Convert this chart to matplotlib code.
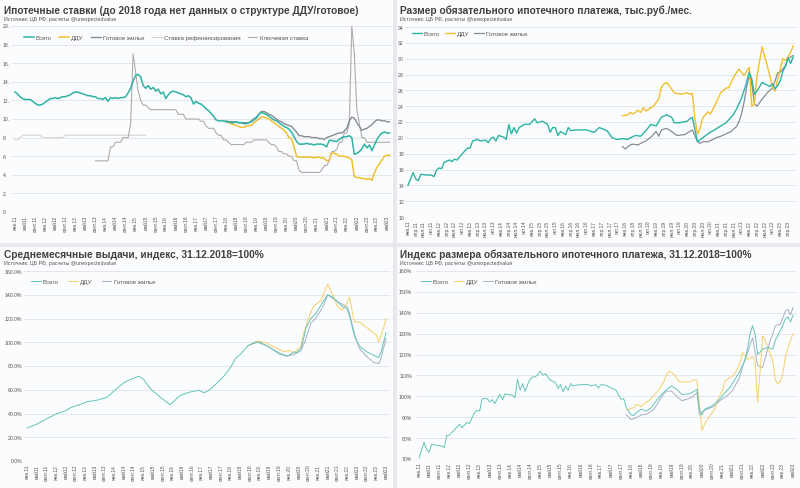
import matplotlib
matplotlib.use('Agg')
import matplotlib.pyplot as plt
from matplotlib.patches import Rectangle

plt.rcParams['font.family'] = ['Liberation Sans', 'DejaVu Sans']

W, H = 800, 489

# ---------- labels ----------
months_ru = ['янв.', 'февр.', 'мар.', 'апр.', 'май', 'июн.', 'июл.', 'авг.', 'сент.', 'окт.', 'нояб.', 'дек.']
series_names = ['Всего', 'ДДУ', 'Готовое жилье']
rate_names = ['Ставка рефинансирования', 'Ключевая ставка']
titles = ['Ипотечные ставки (до 2018 года нет данных о структуре ДДУ/готовое)',
          'Размер обязательного ипотечного платежа, тыс.руб./мес.',
          'Среднемесячные выдачи, индекс, 31.12.2018=100%',
          'Индекс размера обязательного ипотечного платежа, 31.12.2018=100%']
source = 'Источник: ЦБ РФ, расчеты @unexpectedvalue'

# ---------- panel 1: rates, % (monthly, month index from Jan 2011) ----------
p1_total_start = 0
p1_total_v = [12.9, 12.7, 12.4, 12.2, 12.1, 12.1, 12.1, 11.9, 11.7, 11.5, 11.5, 11.6, 11.8, 12.0, 12.2, 12.2,
              12.3, 12.2, 12.3, 12.4, 12.4, 12.5, 12.6, 12.8, 12.9, 12.9, 12.8, 12.7, 12.6, 12.5, 12.5, 12.4,
              12.4, 12.2, 12.2, 12.1, 12.3, 11.9, 12.3, 12.2, 12.3, 12.2, 12.3, 12.3, 12.4, 12.8, 13.3, 14.1,
              14.7, 14.8, 14.5, 13.6, 13.3, 13.6, 13.2, 13.4, 13.0, 13.2, 12.7, 12.9, 12.2, 12.6, 12.9, 13.0,
              12.9, 12.8, 12.7, 12.6, 12.4, 12.5, 12.3, 11.6, 11.9, 11.7, 11.6, 11.4, 11.1, 10.9, 10.6, 10.3,
              9.9, 9.8, 9.8, 9.8, 9.7, 9.7, 9.6, 9.6, 9.7, 9.6, 9.6, 9.5, 9.5, 9.6, 9.7, 9.9,
              10.1, 10.5, 10.7, 10.6, 10.5, 10.3, 10.1, 9.9, 9.8, 9.6, 9.4, 9.2, 9.1, 8.9, 8.6, 8.1,
              7.6, 7.3, 7.3, 7.3, 7.4, 7.3, 7.3, 7.2, 7.3, 7.3, 7.3, 7.2, 7.0, 7.7, 7.7, 7.6,
              7.6, 7.8, 8.0, 8.1, 8.1, 8.2, 8.0, 6.2, 6.3, 6.5, 6.8, 7.3, 6.9, 7.2, 6.6, 7.2,
              7.8, 8.2, 8.5, 8.6, 8.5, 8.5]
p1_ddu_start = 84
p1_ddu_v = [9.7, 9.6, 9.5, 9.4, 9.3, 9.2, 9.1, 9.1, 9.2, 9.3, 9.3, 9.6, 9.8, 10.0, 10.2, 10.2,
            10.1, 10.0, 9.8, 9.6, 9.4, 9.2, 9.0, 8.8, 8.5, 8.0, 7.9, 7.0, 6.0, 5.9, 5.9, 5.9,
            5.9, 5.9, 5.9, 5.8, 5.9, 5.9, 5.8, 5.8, 5.5, 5.6, 6.4, 6.3, 6.2, 6.0, 6.0, 6.0,
            5.9, 5.8, 5.6, 3.8, 3.7, 3.7, 3.6, 3.6, 3.5, 3.6, 3.4, 4.2, 4.8, 5.2, 5.6, 6.0,
            6.1, 6.1]
p1_ready_start = 84
p1_ready_v = [9.8, 9.7, 9.7, 9.7, 9.7, 9.6, 9.6, 9.6, 9.6, 9.6, 9.8, 10.0, 10.2, 10.5, 10.8, 10.8,
              10.7, 10.5, 10.4, 10.2, 10.0, 9.8, 9.7, 9.5, 9.4, 9.3, 9.2, 8.9, 8.6, 8.2, 8.2, 8.1,
              8.1, 8.1, 8.0, 8.0, 8.0, 7.9, 7.9, 7.8, 8.0, 8.1, 8.2, 8.3, 8.4, 8.5, 8.5, 8.7,
              9.0, 9.8, 10.2, 10.1, 9.6, 9.2, 8.8, 8.9, 9.0, 9.2, 9.4, 9.7, 9.9, 9.9, 9.8, 9.8,
              9.7, 9.7]
p1_refi_start = 0
p1_refi_v = [7.75, 7.75, 8.0, 8.25, 8.25, 8.25, 8.25, 8.25, 8.25, 8.25, 8.25, 8.0, 8.0, 8.0, 8.0, 8.0,
             8.0, 8.0, 8.0, 8.0, 8.25, 8.25, 8.25, 8.25, 8.25, 8.25, 8.25, 8.25, 8.25, 8.25, 8.25, 8.25,
             8.25, 8.25, 8.25, 8.25, 8.25, 8.25, 8.25, 8.25, 8.25, 8.25, 8.25, 8.25, 8.25, 8.25, 8.25, 8.25,
             8.25, 8.25, 8.25, 8.25, 8.25]
p1_key_start = 32
p1_key_v = [5.5, 5.5, 5.5, 5.5, 5.5, 5.5, 7.0, 7.0, 7.5, 7.5, 7.5, 8.0, 8.0, 8.0, 9.5, 17.0,
            15.0, 13.0, 12.0, 11.5, 11.5, 11.2, 11.0, 11.0, 11.0, 11.0, 11.0, 11.0, 11.0, 11.0, 11.0, 11.0,
            11.0, 10.5, 10.5, 10.5, 10.0, 10.0, 10.0, 10.0, 10.0, 10.0, 9.75, 9.75, 9.25, 9.0, 9.0, 9.0,
            8.5, 8.25, 8.25, 7.75, 7.75, 7.5, 7.25, 7.25, 7.25, 7.25, 7.25, 7.25, 7.5, 7.5, 7.5, 7.75,
            7.75, 7.75, 7.75, 7.75, 7.75, 7.5, 7.25, 7.25, 7.0, 6.5, 6.5, 6.25, 6.25, 6.0, 6.0, 5.5,
            5.5, 4.5, 4.25, 4.25, 4.25, 4.25, 4.25, 4.25, 4.25, 4.25, 4.5, 5.0, 5.0, 5.5, 6.5, 6.5,
            6.75, 7.5, 7.5, 8.5, 8.5, 9.5, 20.0, 17.0, 11.0, 9.5, 8.0, 8.0, 7.5, 7.5, 7.5, 7.5,
            7.5, 7.5, 7.5, 7.5, 7.5, 7.5]

# ---------- panel 2: payment, thousand rub / month  (month index, value) ----------
p2_total = [(0, 14.0), (2, 15.6), (3, 14.8), (4, 14.6), (5, 15.4), (7, 15.3), (9, 15.3), (10, 15.1),
            (11, 15.9), (12, 16.2), (13, 16.1), (14, 16.9), (16, 17.2), (17, 17.0), (18, 17.3), (19, 17.2),
            (21, 18.0), (23, 18.7), (24, 18.7), (25, 19.6), (27, 19.8), (28, 19.6), (30, 19.7), (31, 19.4),
            (32, 19.9), (33, 20.1), (34, 19.6), (35, 20.3), (36, 20.2), (37, 20.1), (38, 19.8), (39, 21.7),
            (40, 20.5), (41, 21.3), (42, 20.6), (43, 21.3), (45, 21.7), (47, 21.7), (49, 22.4), (50, 21.9),
            (52, 22.1), (54, 21.7), (55, 20.7), (56, 21.3), (57, 21.3), (58, 20.3), (59, 20.8), (61, 20.4),
            (62, 21.3), (63, 20.9), (65, 21.0), (69, 21.0), (72, 20.7), (74, 21.3), (77, 20.9), (79, 20.0),
            (81, 19.8), (83, 19.9), (85, 19.8), (86, 20.0), (88, 20.3), (90, 20.2), (92, 20.9), (94, 21.7),
            (96, 21.5), (98, 22.6), (100, 22.9), (102, 22.6), (103, 21.9), (105, 21.9), (108, 22.1),
            (109, 22.4), (110, 22.6), (112, 19.5), (114, 20.0), (116, 20.5), (118, 20.9), (121, 21.5),
            (123, 21.9), (125, 22.6), (126, 23.0), (127, 23.6), (128, 24.3), (129, 25.0), (130, 26.0),
            (131, 27.0), (132, 28.3), (133, 27.4), (134, 25.5), (135, 25.9), (137, 27.0), (138, 26.8),
            (140, 26.5), (141, 26.8), (142, 26.2), (143, 26.6), (144, 27.2), (145, 28.4), (146, 29.0),
            (147, 30.1), (148, 29.4), (149, 30.2)]
p2_ddu = [(83, 22.8), (85, 22.9), (86, 23.2), (87, 23.0), (89, 23.5), (90, 23.2), (91, 23.8), (92, 23.4),
          (95, 24.0), (97, 24.9), (98, 26.4), (99, 26.8), (100, 27.0), (101, 26.6), (103, 25.7), (104, 25.6),
          (106, 25.5), (108, 25.7), (109, 25.5), (110, 25.6), (111, 22.3), (112, 20.5), (113, 21.2),
          (114, 22.5), (116, 23.3), (117, 23.0), (119, 24.3), (121, 25.7), (123, 26.3), (124, 26.3),
          (126, 27.7), (128, 28.7), (130, 27.9), (132, 28.9), (133, 24.0), (134, 24.3), (135, 27.8),
          (137, 31.5), (138, 30.2), (139, 29.1), (141, 26.4), (142, 25.9), (143, 27.4), (145, 30.0),
          (146, 29.8), (147, 30.2), (148, 30.8), (149, 31.6)]
p2_ready = [(83, 18.9), (84, 18.6), (86, 19.1), (87, 19.2), (89, 19.1), (90, 19.3), (92, 19.6), (94, 20.1),
            (96, 20.8), (97, 20.2), (98, 21.0), (100, 21.2), (102, 20.8), (104, 20.3), (107, 20.4),
            (108, 20.6), (109, 20.8), (110, 21.0), (112, 19.5), (113, 19.3), (114, 19.5), (116, 19.5),
            (118, 19.8), (119, 20.0), (121, 20.2), (123, 20.5), (125, 20.8), (127, 21.4), (128, 22.0),
            (129, 23.0), (130, 24.5), (131, 26.4), (132, 28.0), (133, 26.8), (134, 24.3), (135, 24.0),
            (137, 24.9), (139, 25.7), (141, 26.3), (142, 27.2), (143, 28.2), (144, 28.3), (146, 29.1),
            (147, 30.0), (148, 30.2), (149, 30.4)]

# ---------- panel 3: monthly issuance index, % ----------
p3_total = [(0, 27.8), (4, 31.0), (8, 35.4), (12, 39.6), (16, 42.4), (18, 44.9), (22, 47.7), (25, 50.0),
            (29, 51.3), (33, 53.6), (36, 59.2), (40, 66.0), (43, 69.0), (46, 71.3), (48, 69.0), (51, 60.6),
            (55, 53.6), (59, 47.4), (63, 55.0), (67, 58.0), (71, 59.6), (73, 57.5), (75, 59.5), (78, 65.0),
            (81, 71.0), (84, 79.0), (86, 86.5), (88, 90.0), (91, 97.0), (94, 100.0), (96, 100.0), (99, 97.0),
            (102, 93.0), (104, 90.0), (107, 88.4), (108, 88.8), (110, 92.0), (111, 91.0), (113, 95.0),
            (114, 103.0), (115, 112.0), (117, 120.0), (119, 124.0), (122, 134.0), (124, 140.0), (126, 138.0),
            (128, 134.0), (130, 130.0), (132, 128.0), (133, 122.0), (135, 105.0), (137, 97.0), (140, 92.0),
            (143, 89.0), (145, 87.0), (146, 92.0), (148, 108.0)]
p3_ddu = [(91, 97.0), (95, 101.0), (98, 100.0), (102, 96.0), (106, 92.0), (108, 93.0), (110, 91.0),
          (113, 97.0), (114, 107.0), (116, 120.0), (118, 130.0), (121, 135.0), (123, 144.0), (124, 149.0),
          (126, 140.0), (128, 130.0), (130, 127.0), (132, 133.0), (133, 138.0), (134, 127.0), (135, 117.0),
          (137, 117.0), (139, 114.0), (141, 111.0), (144, 106.0), (145, 100.0), (147, 112.0), (148, 120.0)]
p3_ready = [(91, 97.0), (95, 100.0), (99, 97.0), (103, 92.0), (107, 88.5), (110, 89.5), (113, 93.0),
            (115, 103.0), (117, 116.0), (119, 120.0), (122, 130.0), (124, 140.0), (126, 137.0), (129, 133.0),
            (132, 130.0), (133, 124.0), (135, 107.0), (137, 95.0), (140, 88.0), (143, 83.0), (145, 82.0),
            (146, 87.0), (148, 103.0)]

# ---------- panel 4: payment index, % ----------
p4_total = [(0, 70.5), (2, 78.0), (3, 74.5), (4, 73.2), (5, 77.0), (7, 76.5), (9, 76.2), (10, 75.5),
            (11, 81.4), (12, 81.4), (14, 84.0), (16, 86.6), (17, 85.0), (19, 87.5), (20, 87.0), (21, 89.8),
            (22, 92.2), (23, 93.3), (24, 93.0), (25, 98.9), (27, 98.9), (28, 97.3), (29, 98.4), (30, 96.5),
            (31, 98.9), (32, 100.9), (33, 98.4), (34, 101.2), (35, 100.9), (37, 100.6), (38, 99.3),
            (39, 108.2), (40, 102.9), (41, 106.1), (42, 102.4), (43, 105.6), (44, 108.2), (45, 109.3),
            (46, 109.3), (47, 110.4), (48, 112.0), (49, 110.1), (50, 110.9), (52, 107.7), (54, 106.6),
            (55, 103.7), (56, 105.6), (57, 102.1), (58, 104.9), (59, 102.9), (60, 106.1), (61, 105.0),
            (62, 105.3), (64, 105.6), (67, 105.6), (68, 105.0), (70, 105.6), (71, 104.0), (72, 105.6),
            (74, 105.3), (76, 104.0), (78, 102.9), (79, 100.5), (80, 98.6), (81, 98.9), (82, 94.6),
            (84, 91.1), (85, 90.8), (86, 92.2), (88, 93.8), (90, 93.0), (92, 94.6), (94, 98.1), (96, 100.9),
            (98, 103.3), (100, 104.9), (102, 103.3), (104, 100.9), (107, 101.2), (109, 102.5), (110, 103.3),
            (111, 93.0), (112, 91.1), (113, 93.8), (116, 95.4), (119, 98.6), (120, 100.2), (121, 101.7),
            (123, 104.1), (125, 108.1), (127, 112.0), (129, 117.5), (130, 122.6), (131, 129.8), (132, 133.8),
            (133, 129.8), (134, 120.0), (136, 122.6), (138, 123.4), (140, 122.6), (141, 126.8), (143, 131.6),
            (144, 134.0), (145, 137.2), (146, 138.0), (147, 135.6), (148, 138.8)]
p4_ddu = [(82, 93.3), (85, 94.6), (86, 96.2), (88, 95.0), (89, 96.5), (91, 97.9), (93, 100.5), (95, 103.3),
          (97, 107.3), (98, 110.4), (99, 112.0), (101, 110.4), (103, 106.9), (105, 106.9), (107, 106.9),
          (109, 108.0), (110, 107.7), (111, 95.4), (112, 83.5), (113, 86.7), (115, 90.6), (117, 93.8),
          (118, 97.9), (120, 102.5), (121, 107.3), (123, 108.9), (124, 109.6), (126, 112.8), (127, 116.0),
          (128, 121.0), (130, 117.7), (132, 119.0), (133, 117.0), (134, 97.1), (135, 112.0), (136, 129.0),
          (138, 124.0), (139, 120.0), (140, 117.0), (141, 107.7), (142, 106.1), (143, 107.0), (144, 111.0),
          (145, 119.0), (146, 123.4), (147, 126.8), (148, 129.8)]
p4_ready = [(82, 91.1), (84, 88.8), (86, 89.8), (88, 91.1), (90, 91.4), (93, 93.8), (95, 97.9), (97, 101.4),
            (98, 102.5), (100, 102.5), (102, 100.0), (104, 97.9), (106, 98.6), (108, 99.6), (110, 101.7),
            (111, 91.1), (112, 92.7), (114, 93.8), (117, 95.4), (119, 97.9), (122, 100.3), (124, 102.7),
            (126, 107.0), (127, 109.5), (128, 114.0), (130, 121.0), (132, 128.0), (133, 121.0), (134, 115.0),
            (135, 114.0), (136, 113.9), (138, 122.6), (139, 126.8), (140, 130.0), (141, 133.8), (143, 134.5),
            (144, 137.6), (145, 140.8), (146, 141.6), (147, 139.0), (148, 142.5)]

# ---------- colours ----------
teal, yellow, grey = '#2bb3a4', '#f2bf2f', '#878b94'
teal_l, yellow_l, grey_l = '#62c6b9', '#f5d067', '#a9aec6'
refi_c, key_c = '#d4d4d4', '#acacac'
panel_bg, fig_bg = '#fbfcfd', '#e6e8ec'
txt_c = '#404040'

fig = plt.figure(figsize=(W / 100, H / 100), dpi=100)
fig.patch.set_facecolor(fig_bg)


def fx(x):
    return x / W


def fy(y):
    return 1 - y / H


def monthly(start, vals):
    return list(range(start, start + len(vals))), vals


def pairs(data):
    return [p[0] for p in data], [p[1] for p in data]


def panel(x0, y0, x1, y1):
    fig.add_artist(Rectangle((fx(x0), fy(y1)), fx(x1 - x0), (y1 - y0) / H,
                             transform=fig.transFigure, facecolor=panel_bg, edgecolor='none', zorder=0))


def month_labels(step, last):
    out = []
    for m in range(0, last + 1, step):
        out.append(months_ru[m % 12] + str(11 + m // 12))
    return out


def make_axes(left, right, top, bottom, p0, pend, mend, ylim, yticks, ylabels,
              ylab_px, ylab_ha, xstep):
    ax = fig.add_axes([fx(left), fy(bottom), fx(right - left), (bottom - top) / H])
    ax.set_facecolor('none')
    ppm = (pend - p0) / mend
    ax.set_xlim((left - p0) / ppm, (right - p0) / ppm)
    ax.set_ylim(*ylim)
    for s in ax.spines.values():
        s.set_visible(False)
    ax.set_yticks(yticks)
    ax.yaxis.set_major_formatter(plt.NullFormatter())
    ax.tick_params(length=0)
    ax.grid(axis='y', color='#dfe2e7', lw=0.6)
    ax.set_axisbelow(True)
    for t, lab in zip(yticks, ylabels):
        ax.text((ylab_px - left) / (right - left), t, lab, transform=ax.get_yaxis_transform(),
                ha=ylab_ha, va='center', fontsize=3.7, color='#555555')
    ax.set_xticks(list(range(0, mend + 1, xstep)))
    ax.set_xticklabels(month_labels(xstep, mend), rotation=90, fontsize=3.5, color='#555555')
    ax.tick_params(axis='x', pad=2)
    return ax


def titles_at(x, y, sub_y, title, size):
    fig.text(fx(x), fy(y), title, fontsize=size, fontweight='bold', color=txt_c, va='baseline')
    fig.text(fx(x), fy(sub_y), source, fontsize=3.8, color='#555555', va='baseline')


def legend(handles, labels, x, y, spacing):
    fig.legend(handles, labels, loc='center left', bbox_to_anchor=(fx(x), fy(y)),
               bbox_transform=fig.transFigure, ncol=len(labels), frameon=False, fontsize=4.4,
               handlelength=1.6, handletextpad=0.35, columnspacing=spacing, borderpad=0,
               borderaxespad=0, labelcolor='#555555')


# panel backgrounds
panel(0, 0, 393, 244)
panel(397, 0, 800, 244)
panel(0, 248, 393, 489)
panel(397, 248, 800, 489)

# ---- panel 1 ----
ax1 = make_axes(11, 392, 27, 213, 15, 387, 148, (0, 20), list(range(0, 21, 2)),
                [f'{v}.' for v in range(0, 21, 2)], 3, 'left', 4)
l_refi, = ax1.plot(*monthly(p1_refi_start, p1_refi_v), color=refi_c, lw=0.8)
l_key, = ax1.plot(*monthly(p1_key_start, p1_key_v), color=key_c, lw=0.8)
l_rdy, = ax1.plot(*monthly(p1_ready_start, p1_ready_v), color=grey, lw=1.0)
l_ddu, = ax1.plot(*monthly(p1_ddu_start, p1_ddu_v), color=yellow, lw=1.1)
l_tot, = ax1.plot(*monthly(p1_total_start, p1_total_v), color=teal, lw=1.1)
titles_at(4, 13.5, 20.5, titles[0], 7.3)
legend([l_tot, l_ddu, l_rdy, l_refi, l_key], series_names + rate_names, 24, 38.5, 1.2)

# ---- panel 2 ----
ax2 = make_axes(405, 796, 28, 218, 408, 788, 147, (10, 34), list(range(10, 35, 2)),
                [str(v) for v in range(10, 35, 2)], 404, 'right', 3)
r, = ax2.plot(*pairs(p2_ready), color=grey, lw=0.9)
d, = ax2.plot(*pairs(p2_ddu), color=yellow, lw=1.0)
t, = ax2.plot(*pairs(p2_total), color=teal, lw=1.0)
titles_at(400, 13.5, 20.5, titles[1], 7.3)
legend([t, d, r], series_names, 412, 34.5, 0.8)

# ---- panel 3 ----
ax3 = make_axes(24, 390, 272, 462, 27, 386, 148, (0, 160), list(range(0, 161, 20)),
                [f'{v}.0%' for v in range(0, 161, 20)], 22, 'right', 4)
r, = ax3.plot(*pairs(p3_ready), color=grey_l, lw=0.7)
d, = ax3.plot(*pairs(p3_ddu), color=yellow_l, lw=0.7)
t, = ax3.plot(*pairs(p3_total), color=teal_l, lw=0.7)
titles_at(4, 258.5, 265.5, titles[2], 7.3)
legend([t, d, r], series_names, 31, 282.5, 1.5)

# ---- panel 4 ----
ax4 = make_axes(416, 797, 272, 460, 419, 793, 148, (70, 160), list(range(70, 161, 10)),
                [f'{v}%' for v in range(70, 161, 10)], 412, 'right', 4)
r, = ax4.plot(*pairs(p4_ready), color=grey_l, lw=0.7)
d, = ax4.plot(*pairs(p4_ddu), color=yellow_l, lw=0.7)
t, = ax4.plot(*pairs(p4_total), color=teal_l, lw=0.7)
titles_at(400, 258, 265, titles[3], 7.3)
legend([t, d, r], series_names, 421, 282, 0.8)

fig.savefig('out.png', dpi=100, facecolor=fig.get_facecolor())
